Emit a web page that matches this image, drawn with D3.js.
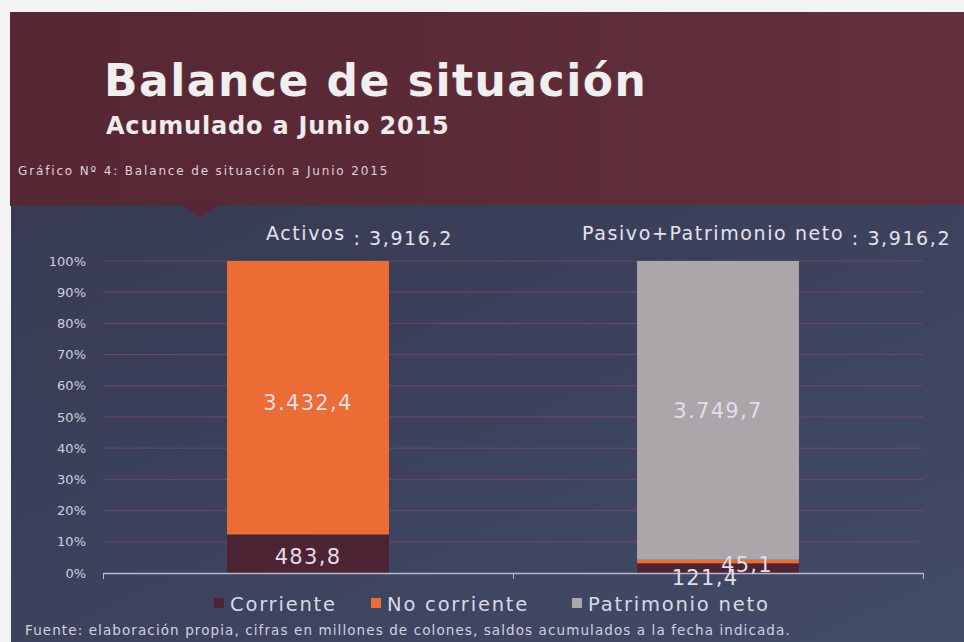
<!DOCTYPE html>
<html>
<head>
<meta charset="utf-8">
<title>Balance de situación</title>
<script src="https://cdn.jsdelivr.net/npm/d3@7"></script>
<style>
  body { margin: 0; background: #f2f2f2; }
  svg { display: block; font-family: "DejaVu Sans", sans-serif; }
</style>
</head>
<body>
<svg id="chart" width="964" height="642"></svg>
<script>
// data (millones de colones)
const categories = ["Activos", "Pasivo+Patrimonio neto"];
const totalLabels = ["3,916,2", "3,916,2"];
const seriesNames = ["Corriente", "No corriente", "Patrimonio neto"];
const corriente = [483.8, 121.4];
const noCorriente = [3432.4, 45.1];
const patrimonio = [0, 3749.7];
const valueLabels = [["483,8", "3.432,4", ""], ["121,4", "45,1", "3.749,7"]];
const yTicks = [0, 0.1, 0.2, 0.3, 0.4, 0.5, 0.6, 0.7, 0.8, 0.9, 1];

const colors = ["#4c2433", "#ec6c35", "#aaa6aa"];

const svg = d3.select("#chart");
const W = 964, H = 642;

// gradients for the panel backgrounds
const defs = svg.append("defs");
const gTop = defs.append("linearGradient").attr("id", "gTop").attr("x1", 0).attr("x2", 1).attr("y1", 0).attr("y2", 0);
gTop.append("stop").attr("offset", 0).attr("stop-color", "#572633");
gTop.append("stop").attr("offset", 1).attr("stop-color", "#62303d");
const gBot = defs.append("linearGradient").attr("id", "gBot").attr("x1", 0).attr("x2", 1).attr("y1", 0).attr("y2", 1);
gBot.append("stop").attr("offset", 0).attr("stop-color", "#373a52");
gBot.append("stop").attr("offset", 1).attr("stop-color", "#424b68");

svg.append("rect").attr("x", 0).attr("y", 0).attr("width", W).attr("height", H).attr("fill", "#f3f3f3");
svg.append("rect").attr("x", 10).attr("y", 12).attr("width", W - 10).attr("height", 194).attr("fill", "url(#gTop)");
svg.append("rect").attr("x", 11).attr("y", 205).attr("width", W - 11).attr("height", H - 205).attr("fill", "url(#gBot)");
svg.append("path").attr("d", "M181,205 L219,205 L200,218 Z").attr("fill", "#572735");

// titles
svg.append("text").attr("x", 104).attr("y", 96)
  .attr("font-size", 44).attr("font-weight", "bold").attr("fill", "#f1eef0")
  .attr("letter-spacing", 1.5)
  .text("Balance de situación");
svg.append("text").attr("x", 106).attr("y", 134)
  .attr("font-size", 24).attr("font-weight", "bold").attr("fill", "#eeeaee")
  .attr("letter-spacing", 0.8)
  .text("Acumulado a Junio 2015");
svg.append("text").attr("x", 18).attr("y", 175)
  .attr("font-size", 12).attr("fill", "#ddd3da").attr("letter-spacing", 1.85)
  .text("Gráfico Nº 4: Balance de situación a Junio 2015");

// scales
const x = d3.scaleBand().domain(categories).range([103, 923]).paddingInner(0.605).paddingOuter(0.3025);
const y = d3.scaleLinear().domain([0, 1]).range([573, 261]);

// gridlines
svg.append("g").selectAll("line").data(yTicks.slice(1)).join("line")
  .attr("x1", 103).attr("x2", 923)
  .attr("y1", d => y(d)).attr("y2", d => y(d))
  .attr("stroke", "#6e4866").attr("stroke-width", 1);

// y axis
const yAxis = svg.append("g").attr("transform", "translate(103,0)")
  .call(d3.axisLeft(y).tickValues(yTicks).tickFormat(d3.format(".0%")).tickSize(0).tickPadding(17));
yAxis.select(".domain").remove();
yAxis.selectAll("text").attr("font-size", 13).attr("fill", "#d2cfdc").attr("font-family", "DejaVu Sans");

// stacked bars
const rows = categories.map((c, i) => ({ cat: c, i: i, "Corriente": corriente[i], "No corriente": noCorriente[i], "Patrimonio neto": patrimonio[i] }));
const stacked = d3.stack().keys(seriesNames).offset(d3.stackOffsetExpand)(rows);

svg.append("g").selectAll("g").data(stacked).join("g")
  .attr("fill", (d, k) => colors[k])
  .selectAll("rect").data(d => d).join("rect")
  .attr("x", d => x(d.data.cat))
  .attr("width", x.bandwidth())
  .attr("y", d => y(d[1]))
  .attr("height", d => y(d[0]) - y(d[1]));

// x axis line with ticks
const xAxisScale = d3.scaleLinear().domain([0, 2]).range([103, 923]);
const xAxis = svg.append("g").attr("transform", "translate(0,573)")
  .call(d3.axisBottom(xAxisScale).tickValues([0, 1, 2]).tickFormat("").tickSize(6).tickSizeOuter(0));
xAxis.select(".domain").attr("stroke", "#b9b6d2").attr("stroke-width", 1.5);
xAxis.selectAll(".tick line").attr("stroke", "#b9b6d2");

// value labels
const labelOffsets = [[[0, 10], [0, 12], [0, 0]], [[-13, 17], [29, 10], [0, 8]]];
stacked.forEach((s, k) => {
  s.forEach((d, i) => {
    const t = valueLabels[i][k];
    if (!t) return;
    svg.append("text")
      .attr("x", x(d.data.cat) + x.bandwidth() / 2 + labelOffsets[i][k][0])
      .attr("y", y((d[0] + d[1]) / 2) + labelOffsets[i][k][1])
      .attr("text-anchor", "middle")
      .attr("font-size", 21).attr("letter-spacing", 1.3).attr("fill", "#e4dde9")
      .text(t);
  });
});

// category headers
categories.forEach((c, i) => {
  const t = svg.append("text")
    .attr("x", x(c) + x.bandwidth() / 2 + (i === 0 ? -42 : -136))
    .attr("y", 240).attr("fill", "#e6e2ec").attr("font-size", 19).attr("letter-spacing", 1.6);
  t.append("tspan").text(c);
  t.append("tspan").attr("dy", 5).attr("font-size", 19).text(" : " + totalLabels[i]);
});

// legend
const legendX = [214, 371, 572];
const lg = svg.append("g").selectAll("g").data(seriesNames).join("g")
  .attr("transform", (d, k) => `translate(${legendX[k]},611)`);
lg.append("rect").attr("x", 0).attr("y", -13).attr("width", 10).attr("height", 10).attr("fill", (d, k) => colors[k]);
lg.append("text").attr("x", 16).attr("y", 0).attr("font-size", 19.5).attr("letter-spacing", 1.8)
  .attr("fill", "#dcd8e4").text(d => d);

// source
svg.append("text").attr("x", 25).attr("y", 635)
  .attr("font-size", 13.5).attr("fill", "#d6d0de").attr("letter-spacing", 1.1)
  .text("Fuente: elaboración propia, cifras en millones de colones, saldos acumulados a la fecha indicada.");
</script>
</body>
</html>
